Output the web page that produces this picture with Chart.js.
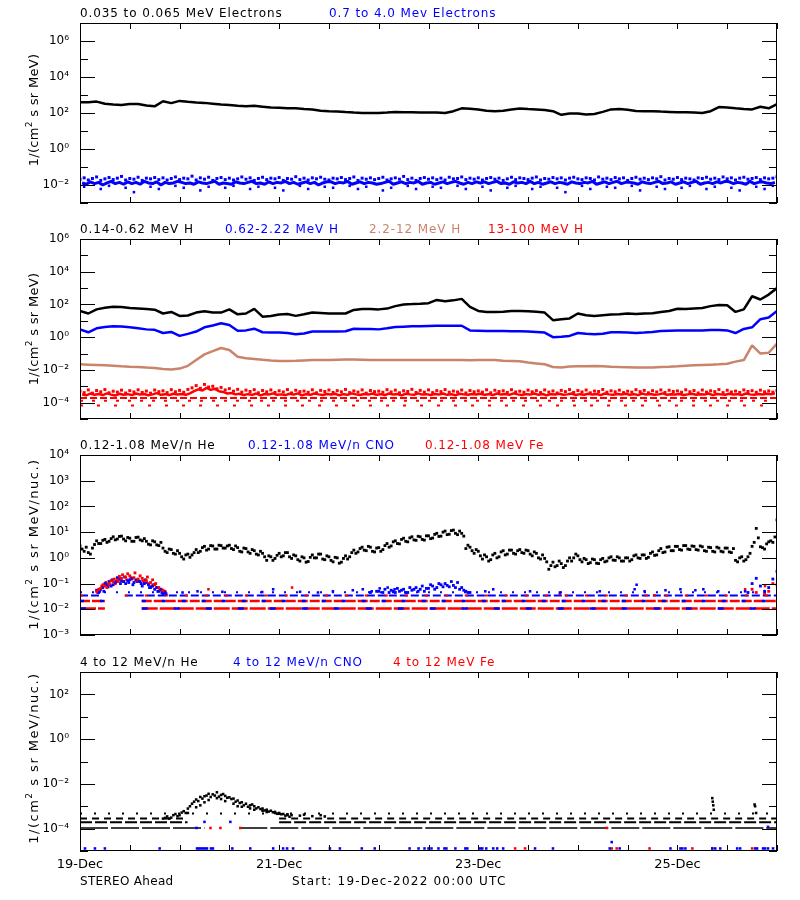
<!DOCTYPE html>
<html>
<head>
<meta charset="utf-8">
<title>STEREO Ahead particle fluxes</title>
<script src="https://cdn.jsdelivr.net/npm/chart.js@4.4.1/dist/chart.umd.min.js"></script>
<style>
body{margin:0;background:#fff;width:800px;height:900px;position:relative;overflow:hidden;font-family:"DejaVu Sans",sans-serif;}
canvas{position:absolute;left:0;}
.hdr{position:absolute;font-size:12px;line-height:14px;letter-spacing:0.9px;white-space:nowrap;}
.ytl{position:absolute;left:33px;font-size:13px;letter-spacing:0.3px;white-space:nowrap;transform:translate(-50%,-50%) rotate(-90deg);}
.ytl.nuc{letter-spacing:1.5px;}
.ytl sup{font-size:9px;line-height:0;}
</style>
</head>
<body>
<canvas id="p1" width="800" height="220" style="top:3px"></canvas>
<canvas id="p2" width="800" height="220" style="top:219px"></canvas>
<canvas id="p3" width="800" height="220" style="top:435px"></canvas>
<canvas id="p4" width="800" height="239" style="top:652px"></canvas>

<div class="hdr" style="left:80px;top:6px">0.035 to 0.065 MeV Electrons</div>
<div class="hdr" style="left:329px;top:6px;color:#0000ff">0.7 to 4.0 Mev Electrons</div>

<div class="hdr" style="left:80px;top:222px">0.14-0.62 MeV H</div>
<div class="hdr" style="left:225px;top:222px;color:#0000ff">0.62-2.22 MeV H</div>
<div class="hdr" style="left:369px;top:222px;color:#c98469">2.2-12 MeV H</div>
<div class="hdr" style="left:488px;top:222px;color:#ff0000">13-100 MeV H</div>

<div class="hdr" style="left:80px;top:438px">0.12-1.08 MeV/n He</div>
<div class="hdr" style="left:248px;top:438px;color:#0000ff">0.12-1.08 MeV/n CNO</div>
<div class="hdr" style="left:425px;top:438px;color:#ff0000">0.12-1.08 MeV Fe</div>

<div class="hdr" style="left:80px;top:655px">4 to 12 MeV/n He</div>
<div class="hdr" style="left:233px;top:655px;color:#0000ff">4 to 12 MeV/n CNO</div>
<div class="hdr" style="left:393px;top:655px;color:#ff0000">4 to 12 MeV Fe</div>

<div class="ytl" style="top:110px">1/(cm<sup>2</sup> s sr MeV)</div>
<div class="ytl" style="top:329px">1/(cm<sup>2</sup> s sr MeV)</div>
<div class="ytl nuc" style="top:544px">1/(cm<sup>2</sup> s sr MeV/nuc.)</div>
<div class="ytl nuc" style="top:758px">1/(cm<sup>2</sup> s sr MeV/nuc.)</div>

<div class="hdr" style="left:80px;top:874px;letter-spacing:0.3px">STEREO Ahead</div>
<div class="hdr" style="left:292px;top:874px;letter-spacing:1.2px">Start: 19-Dec-2022 00:00 UTC</div>

<script>
// x axis: days since 19-Dec-2022 00:00 UTC
const dateLabels = ['19-Dec', '21-Dec', '23-Dec', '25-Dec'];
const labelDays = [0, 2, 4, 6];

// ---- panel 1: electrons (2 h samples / hourly samples) ----
const eLow = [390,400,430,330,300,280,320,320,260,235,
  450,355,470,420,380,365,330,295,275,250,
  235,250,225,200,195,185,182,166,158,135,
  126,120,112,105,100,100,100,105,112,110,
  110,107,107,107,100,126,182,174,158,132,
  126,132,158,178,166,158,148,126,79,95,
  95,83,89,115,158,166,151,129,126,126,
  120,115,110,110,105,100,126,214,200,182,
  166,158,224,182,316];
const eHighUpper = [
  .021,.025,.019,.023,.028,.018,.022,.026,.020,.024,.030,.019,
  .023,.021,.027,.018,.024,.022,.026,.020,.025,.019,.023,.028,
  .020,.024,.022,.031,.019,.025,.021,.027,.018,.023,.026,.020,
  .024,.019,.022,.028,.021,.025,.018,.023,.027,.020,.024,.022,
  .026,.018,.023,.021,.029,.020,.024,.019,.025,.022,.027,.021,
  .019,.024,.022,.026,.020,.023,.028,.018,.024,.021,.025,.020,
  .023,.027,.019,.022,.025,.021,.030,.020,.024,.018,.023,.026,
  .021,.025,.020,.024,.019,.027,.022,.023,.028,.020,.024,.021,
  .025,.019,.023,.026,.021,.024,.018,.022,.027,.020,.025,.023,
  .020,.024,.028,.019,.023,.021,.026,.022,.025,.019,.024,.027,
  .022,.020,.025,.023,.019,.028,.021,.024,.020,.026,.022,.025,
  .018,.023,.027,.021,.024,.020,.025,.022,.029,.019,.023,.021,
  .026,.020,.024,.022,.019,.025,.023,.027,.021,.024,.020,.028,
  .022,.025,.019,.024,.027,.021,.023,.026,.020,.025,.022,.024,
  .029];
const eHighLower = [
  .013,.011,.015,.012,.014,.010,.013,.016,.012,.014,.011,.015,
  .012,.014,.011,.016,.013,.012,.015,.010,.014,.012,.013,.016,
  .014,.012,.013,.011,.015,.013,.012,.014,.016,.011,.013,.012,
  .011,.015,.013,.012,.014,.016,.012,.013,.011,.015,.012,.014,
  .013,.016,.012,.014,.011,.013,.015,.012,.014,.010,.013,.015,
  .015,.012,.014,.013,.016,.011,.013,.015,.012,.014,.013,.011,
  .012,.014,.016,.011,.013,.015,.012,.014,.013,.016,.011,.013,
  .014,.011,.013,.015,.012,.014,.016,.013,.011,.014,.012,.015,
  .013,.015,.012,.014,.016,.012,.013,.011,.015,.013,.014,.012,
  .016,.012,.014,.011,.013,.015,.012,.014,.013,.011,.015,.013,
  .012,.014,.013,.016,.011,.013,.015,.012,.014,.016,.012,.014,
  .014,.013,.011,.015,.013,.012,.014,.016,.012,.013,.015,.011,
  .013,.015,.012,.014,.016,.011,.013,.014,.012,.015,.013,.016,
  .015,.012,.014,.013,.011,.016,.012,.014,.015,.013,.012,.014];
const eHighDips = [.008,null,.006,.009,null,.007,.004,null,.008,.006,
  null,.009,.007,null,.005,.008,null,.007,.009,null,
  .006,.008,null,.007,.005,null,.009,.006,null,.008,
  .007,null,.009,.006,.008,null,.005,.007,null,.009,
  .006,null,.008,.007,null,.009,.006,null,.008,.005,
  null,.007,.009,null,.006,.008,null,.007,.004,null,
  .009,.006,null,.008,.007,null,.009,.005,null,.008,
  .006,null,.007,.009,null,.006,.008,null,.007,.005,
  null,.008,.006,.009,.007];

// ---- panel 2: protons ----
const hLow = [40,28,50,63,72,71,60,56,52,48,
  28,35,20,21,32,38,32,32,50,25,
  28,54,18,20,24,26,20,25,32,30,
  28,28,28,46,52,52,50,56,79,100,
  105,112,120,190,158,178,219,71,40,35,
  35,36,40,40,38,36,32,11,12.6,14,
  28,22,20,22,24,25,28,26,28,29,
  35,40,54,52,56,60,79,93,89,35,
  50,316,200,400,1000];
const hMid = [3.0,2.0,3.5,4.2,4.6,4.5,4.0,3.5,3.0,2.8,
  1.8,2.1,1.2,1.6,2.2,4.0,5.2,7.1,5.6,2.5,
  2.6,3.3,2.0,1.9,1.9,1.8,1.5,1.7,2.2,2.2,
  2.2,2.2,2.3,3.3,3.2,3.2,3.0,3.5,4.2,4.4,
  4.6,4.6,4.8,5.0,5.0,5.0,5.0,2.6,2.5,2.4,
  2.4,2.4,2.3,2.3,2.2,2.1,1.9,1.0,1.05,1.2,
  1.8,1.6,1.5,1.6,2.0,2.0,1.9,1.8,1.9,2.1,
  2.4,2.5,2.6,2.6,2.6,2.6,2.7,2.7,2.6,1.8,
  3.2,4.0,12.6,15.8,40];
const hHigh = [.022,.021,.020,.019,.018,.0166,.0158,.0151,.0141,.0132,
  .0112,.0107,.012,.0178,.040,.089,.141,.219,.166,.063,
  .052,.047,.042,.038,.035,.035,.036,.038,.040,.040,
  .040,.042,.044,.044,.042,.040,.040,.040,.040,.040,
  .040,.041,.040,.041,.040,.040,.040,.039,.040,.040,
  .040,.036,.035,.034,.028,.025,.022,.015,.014,.016,
  .0166,.0166,.0174,.0166,.0158,.0151,.0145,.0138,.0141,.0138,
  .0151,.0158,.0166,.0178,.019,.020,.021,.022,.024,.032,
  .040,.32,.10,.112,.40];
const hTopUpper = [
  5.2e-4,4.1e-4,6.0e-4,3.8e-4,5.5e-4,4.6e-4,6.3e-4,4.0e-4,5.0e-4,4.4e-4,5.8e-4,3.9e-4,
  5.4e-4,4.5e-4,6.1e-4,4.2e-4,5.1e-4,3.8e-4,5.9e-4,4.7e-4,5.3e-4,4.1e-4,6.2e-4,4.6e-4,
  5.6e-4,4.3e-4,6.4e-4,8.0e-4,1.1e-3,7.5e-4,1.3e-3,9.0e-4,1.0e-3,7.0e-4,8.5e-4,6.0e-4,
  7.2e-4,5.0e-4,6.5e-4,4.4e-4,5.8e-4,4.8e-4,6.2e-4,4.0e-4,5.5e-4,4.6e-4,6.0e-4,4.2e-4,
  5.3e-4,4.5e-4,6.3e-4,3.9e-4,5.7e-4,4.7e-4,5.1e-4,4.3e-4,6.1e-4,4.0e-4,5.6e-4,4.8e-4,
  5.9e-4,4.2e-4,5.4e-4,4.6e-4,6.4e-4,4.1e-4,5.2e-4,4.4e-4,6.0e-4,3.8e-4,5.5e-4,4.7e-4,
  5.0e-4,4.3e-4,6.2e-4,4.5e-4,5.8e-4,4.0e-4,5.3e-4,4.8e-4,6.5e-4,4.2e-4,5.6e-4,4.4e-4,
  6.0e-4,4.1e-4,5.4e-4,4.7e-4,6.3e-4,4.3e-4,5.1e-4,4.5e-4,5.9e-4,3.9e-4,5.5e-4,4.6e-4,
  5.2e-4,4.4e-4,6.1e-4,4.0e-4,5.7e-4,4.8e-4,5.3e-4,4.2e-4,6.2e-4,4.5e-4,5.0e-4,4.3e-4,
  5.8e-4,4.6e-4,5.4e-4,4.1e-4,6.0e-4,4.4e-4,5.2e-4,3.9e-4,5.6e-4,4.7e-4,6.3e-4,4.2e-4,
  5.5e-4,4.5e-4,5.9e-4,4.0e-4,5.1e-4,4.8e-4,6.4e-4,4.3e-4,5.3e-4,4.6e-4,5.8e-4,4.1e-4,
  5.0e-4,4.4e-4,6.2e-4,4.7e-4,5.6e-4,4.0e-4,5.4e-4,4.5e-4,6.0e-4,4.2e-4,5.7e-4,4.8e-4,
  5.2e-4,4.3e-4,6.1e-4,4.6e-4,5.5e-4,3.9e-4,5.9e-4,4.4e-4,5.3e-4,4.7e-4,6.3e-4,4.1e-4,
  5.7e-4,4.5e-4,5.1e-4,4.2e-4,6.0e-4,4.8e-4,5.4e-4,4.3e-4,5.8e-4,4.6e-4,5.2e-4,4.4e-4,
  5.6e-4];
const hTopLower = [
  3.2e-4,2.8e-4,3.6e-4,3.0e-4,3.4e-4,2.9e-4,3.7e-4,3.1e-4,2.7e-4,3.5e-4,3.0e-4,3.3e-4,
  2.9e-4,3.6e-4,3.1e-4,3.4e-4,2.8e-4,3.2e-4,3.8e-4,3.0e-4,3.3e-4,2.9e-4,3.5e-4,3.1e-4,
  3.4e-4,3.0e-4,3.7e-4,5.0e-4,6.5e-4,5.5e-4,8.0e-4,6.0e-4,7.0e-4,5.0e-4,4.5e-4,3.6e-4,
  3.9e-4,3.2e-4,3.5e-4,2.9e-4,3.3e-4,3.0e-4,3.6e-4,2.8e-4,3.4e-4,3.1e-4,3.7e-4,3.0e-4,
  3.2e-4,2.9e-4,3.5e-4,3.1e-4,3.7e-4,2.8e-4,3.3e-4,3.0e-4,3.6e-4,3.2e-4,2.9e-4,3.4e-4,
  3.1e-4,3.5e-4,2.8e-4,3.3e-4,3.0e-4,3.7e-4,3.2e-4,2.9e-4,3.4e-4,3.1e-4,3.6e-4,3.0e-4,
  3.3e-4,2.9e-4,3.6e-4,3.1e-4,3.4e-4,2.8e-4,3.5e-4,3.2e-4,3.0e-4,3.7e-4,3.1e-4,3.3e-4,
  2.9e-4,3.4e-4,3.1e-4,3.6e-4,3.0e-4,3.3e-4,2.8e-4,3.5e-4,3.2e-4,3.0e-4,3.4e-4,3.1e-4,
  3.5e-4,3.0e-4,3.3e-4,2.9e-4,3.6e-4,3.1e-4,3.4e-4,3.0e-4,3.7e-4,3.2e-4,2.9e-4,3.3e-4,
  3.1e-4,3.6e-4,3.0e-4,3.4e-4,2.8e-4,3.3e-4,3.1e-4,3.5e-4,3.0e-4,3.2e-4,3.6e-4,2.9e-4,
  3.3e-4,3.0e-4,3.5e-4,3.1e-4,3.4e-4,2.9e-4,3.6e-4,3.2e-4,3.0e-4,3.4e-4,3.1e-4,3.5e-4,
  3.0e-4,3.3e-4,2.9e-4,3.6e-4,3.1e-4,3.4e-4,3.0e-4,3.2e-4,3.7e-4,3.0e-4,3.3e-4,3.1e-4,
  3.4e-4,2.9e-4,3.2e-4,3.5e-4,3.0e-4,3.3e-4,3.1e-4,3.6e-4,2.9e-4,3.4e-4,3.2e-4,3.0e-4,
  3.5e-4,3.1e-4,3.3e-4,2.9e-4,3.6e-4,3.2e-4,3.0e-4,3.4e-4,3.1e-4,3.5e-4,3.3e-4,3.7e-4];
// single-count floor levels of the 13-100 MeV channel
const hTopFloors = [1.95e-4, 1.3e-4, 6.6e-5];

// ---- panel 3: 0.12-1.08 MeV/n heavy ions (hourly) ----
const heLowA = [
  2.9,1.8,1.6,2.4,4.6,3.6,5.2,4.4,6.6,5.4,7.0,4.6,
  5.8,4.4,6.4,4.6,4.4,3.2,4.2,3.0,2.4,1.6,2.1,1.4,
  1.5,0.9,1.4,1.3,2.1,1.8,2.8,2.2,2.9,2.2,3.0,2.4,
  3.1,2.1,2.5,1.7,2.3,1.5,1.9,1.3,1.5,0.8,1.1,0.95,
  1.5,1.2,1.6,0.95,1.2,0.75,1.0,0.72,1.3,1.0,1.4,0.85,
  1.1,0.7,1.0,0.68,1.2,1.1,2.0,1.7,2.6,1.9,2.6,1.7,
  2.5,2.1,3.6,2.9,4.6,3.5,5.8,4.2,6.6,4.8,6.6,4.9,
  7.2,5.9,9.0,7.0,11.0,8.3,12.0,8.0,9.0,2.3,2.6,1.5,
  1.8,0.9,1.1,0.85,1.5,1.1,1.9,1.4,2.0,1.4,2.1,1.5,
  1.9,1.2,1.5,0.9,0.95,0.36,0.68,0.5,0.6,0.5,1.0,1.0,
  1.2,0.7,0.85,0.65,0.85,0.6,0.95,0.75,1.1,0.8,1.0,0.75,
  1.0,0.85,1.3,0.95,1.3,1.05,1.7,1.3,2.3,1.7,2.7,1.9,
  2.8,2.0,3.0,2.1,2.8,2.0,2.7,1.8,2.5,1.7,2.4,1.7,
  2.4,1.6,0.8,1.0,0.75,1.1,2.8,14.0,2.7,2.2,4.2,4.0,
  30];
const heLowB = [
  2.2,2.6,1.4,3.3,3.6,4.8,4.0,5.6,5.0,6.8,5.4,6.2,
  4.4,6.2,5.0,5.6,3.4,4.6,3.2,4.0,1.8,2.2,1.5,1.9,
  1.1,1.3,1.05,1.6,1.6,2.5,2.0,3.0,2.2,3.1,2.4,2.9,
  2.3,2.9,1.8,2.4,1.7,2.1,1.4,1.8,1.1,1.2,0.8,1.25,
  1.1,1.6,1.1,1.3,0.85,1.1,0.68,1.05,1.0,1.4,0.9,1.2,
  0.8,1.05,0.62,0.95,0.9,1.6,1.5,2.3,2.0,2.8,1.8,2.4,
  1.8,3.0,2.6,4.2,3.6,5.2,4.4,6.0,5.0,6.9,5.2,7.2,
  5.6,8.2,6.8,10.0,8.0,11.5,9.0,11.0,7.0,3.1,1.9,2.1,
  1.2,1.3,0.75,1.3,1.0,1.7,1.3,2.0,1.5,1.9,1.6,2.0,
  1.4,1.7,1.0,1.3,0.7,0.5,0.45,0.75,0.42,0.75,0.75,1.4,
  0.85,0.95,0.6,0.9,0.62,0.85,0.7,1.0,0.82,1.1,0.75,1.0,
  0.75,1.2,1.0,1.3,0.95,1.5,1.25,1.9,1.6,2.6,1.9,2.8,
  2.1,3.0,2.2,2.9,2.1,2.9,1.9,2.6,1.8,2.6,1.8,2.4,
  1.7,2.3,0.7,1.1,0.85,1.5,4.0,6.0,2.5,3.5,4.6,6.5];
// early event, hours 4..20
const feLowBumpA = [0.05,0.065,0.08,0.1,0.12,0.14,0.16,0.18,0.2,0.17,0.15,0.16,0.13,0.11,0.09,0.07,0.055];
const feLowBumpB = [0.06,0.09,0.07,0.13,0.1,0.19,0.12,0.24,0.15,0.13,0.2,0.11,0.1,0.14,0.07,0.06,0.05];
const feLowBumpC = [0.045,0.08,0.11,0.09,0.15,0.12,0.22,0.14,0.17,0.26,0.12,0.13,0.18,0.08,0.1,0.055,0.045];
const cnoLowBumpA = [0.045,0.07,0.09,0.08,0.11,0.15,0.12,0.13,0.16,0.14,0.12,0.1,0.09,0.08,0.07,0.06,0.045];
const cnoLowBumpB = [0.055,0.06,0.1,0.12,0.09,0.17,0.13,0.1,0.14,0.11,0.13,0.08,0.11,0.07,0.06,0.05,0.04];
const cnoLowBumpC = [0.05,0.05,0.075,0.14,0.12,0.1,0.18,0.11,0.09,0.12,0.1,0.14,0.07,0.09,0.05,0.045,0.04];
// second CNO rise, hours 70..94
const cnoLowRiseA = [0.045,null,0.05,0.045,null,0.055,0.045,0.05,0.06,0.045,0.055,0.07,0.06,0.05,0.065,0.08,0.07,0.09,0.1,0.075,0.085,0.11,0.07,0.05,0.045];
const cnoLowRiseB = [null,0.05,null,0.06,0.045,0.05,0.065,0.055,0.045,0.07,0.06,0.05,0.08,0.065,0.09,0.06,0.1,0.075,0.085,0.12,0.07,0.06,0.055,0.045,null];
// last hours 161..168
const cnoLowEnd = [0.045,0.1,0.16,0.08,0.05,0.07,0.15,0.3];
const feLowEnd = [null,0.06,0.045,null,0.04,0.05,0.1,0.09];
// isolated counts
const cnoLowDays = [1.03,1.18,1.43,1.83,1.94,2.21,2.39,2.54,2.74,2.84,2.93,3.01,3.09,3.16,4.07,4.15,4.52,4.82,5.22,5.57,5.59,5.67,5.88,6.03,6.18,6.26,6.41,6.68];
const cnoLowVals = [0.045,0.05,0.048,0.047,0.06,0.048,0.045,0.05,0.055,0.06,0.05,0.065,0.07,0.06,0.05,0.06,0.05,0.045,0.05,0.06,0.09,0.05,0.055,0.06,0.055,0.06,0.05,0.05];
const feLowDays = [1.29,2.13,4.82,5.77,6.68,6.88];
const feLowVals = [0.06,0.07,0.04,0.035,0.06,0.08];
const lowFloors = [0.046, 0.034, 0.021, 0.0107];
const lowFloorSpans = [[0,7],[0,0.2,0.45,7],[0,0.25,0.62,7],[0,0.25,0.62,7]];

// ---- panel 4: 4-12 MeV/n heavy ions ----
const heHighBumpA = [2.8e-4,3.5e-4,3.1e-4,4.5e-4,4.0e-4,6.0e-4,7.9e-4,1.3e-3,2.0e-3,2.6e-3,2.8e-3,3.6e-3,3.4e-3,4.2e-3,3.2e-3,2.9e-3,2.5e-3,2.2e-3,1.8e-3,1.5e-3,1.3e-3,1.1e-3,1.0e-3,9.0e-4,7.9e-4,7.0e-4,6.3e-4,5.6e-4,5.0e-4,4.5e-4,4.0e-4];
const heHighBumpB = [3.0e-4,2.8e-4,4.0e-4,3.6e-4,5.2e-4,5.0e-4,1.0e-3,1.6e-3,1.7e-3,2.2e-3,3.0e-3,2.6e-3,3.0e-3,2.7e-3,3.5e-3,2.4e-3,2.1e-3,1.6e-3,1.4e-3,1.1e-3,9.5e-4,1.2e-3,8.0e-4,7.5e-4,6.5e-4,5.8e-4,5.4e-4,4.6e-4,4.4e-4,3.8e-4,3.4e-4];
const heHighBumpC = [5.0e-4,null,9.0e-4,1.1e-3,1.5e-3,1.9e-3,null,2.3e-3,2.1e-3,1.7e-3,null,1.3e-3,1.0e-3,9.5e-4,null,8.0e-4,7.0e-4,null,6.3e-4,5.5e-4,null,5.0e-4,4.6e-4,null,4.4e-4,4.0e-4,null,3.8e-4,4.2e-4,null,3.6e-4,null,4.0e-4,3.5e-4,null];
const heHighSpikeDays = [6.35,6.355,6.36,6.365,6.775,6.78,6.79];
const heHighSpikeVals = [2.3e-3,1.6e-3,1.1e-3,7.0e-4,1.2e-3,1.0e-3,5.0e-4];
const highFloors = [4.7e-4, 2.8e-4, 1.95e-4, 1.07e-4];
const highFloorSpans = [[0,7],[0,1.08,2.0,7],[0,1.08,2.0,7],[0,1.25,1.6,7]];
const cnoHighFloor = 1.3e-5;
const cnoHighFloorDays = [0.05,0.15,0.25,0.80,1.175,1.195,1.215,1.235,1.255,1.275,1.315,1.335,1.53,1.71,1.94,2.04,2.08,2.14,2.31,2.51,2.61,2.83,2.96,3.31,3.40,3.46,3.50,3.53,3.60,3.66,3.68,3.77,3.87,3.89,4.02,4.04,4.08,4.15,4.19,4.25,4.57,4.75,5.32,5.42,5.93,6.03,6.05,6.08,6.35,6.38,6.43,6.60,6.63,6.78,6.80,6.86,6.88,6.91,6.96];
const cnoHighDays = [1.17,1.25,1.51,5.34,6.91];
const cnoHighVals = [1.07e-4,2.0e-4,2.0e-4,2.5e-5,1.2e-4];
const feHighDays = [1.31,1.41,1.61,4.37,4.47,5.29,5.34,5.39,5.72,6.15,6.35,6.75];
const feHighVals = [1.07e-4,1.07e-4,1.07e-4,1.3e-5,1.3e-5,1.07e-4,1.3e-5,1.3e-5,1.3e-5,1.3e-5,1.3e-5,1.3e-5];

const BLACK = '#000000', BLUE = '#0000ff', BROWN = '#c98469', RED = '#ff0000';
const SUP = {'0':'⁰','1':'¹','2':'²','3':'³','4':'⁴','5':'⁵','6':'⁶','7':'⁷','8':'⁸','9':'⁹','-':'⁻'};
function sup(n){ return String(n).split('').map(c => SUP[c]).join(''); }

// series sampled every stepH hours starting at startH
function timed(values, startH, stepH){
    return values.map((v, i) => ({x: (startH + i*stepH)/24, y: v}));
}
function pairs(days, vals){
    return days.map((d, i) => ({x: d, y: Array.isArray(vals) ? vals[i] : vals}));
}
function dots(data, color, r){
    return {data, showLine:false, pointStyle:'rect', pointRadius:r || 1.8, pointBackgroundColor:color, pointBorderWidth:0, pointHoverRadius:0};
}
function trace(data, color, w){
    return {data, showLine:true, borderColor:color, borderWidth:w || 2.5, borderJoinStyle:'bevel', pointRadius:0, spanGaps:false};
}
function floorRow(level, spans, color, dash, w){
    const data = [];
    for(let i=0;i<spans.length;i+=2){
        data.push({x:spans[i], y:level}, {x:spans[i+1], y:level}, {x:spans[i+1], y:null});
    }
    return {data, showLine:true, borderColor:color, borderWidth:w || 2, borderDash:dash, pointRadius:0, spanGaps:false};
}

// frame, inward tick marks on all four sides
const frameTicks = {
    id:'frameTicks',
    afterDraw(chart, args, opts){
        const {ctx, chartArea:a} = chart;
        const xs = chart.scales.x, ys = chart.scales.y;
        ctx.save();
        ctx.strokeStyle = '#000';
        ctx.lineWidth = 1;
        ctx.beginPath();
        for(let e=opts.lo; e<=opts.hi; e++){
            const py = Math.round(ys.getPixelForValue(Math.pow(10, e))) + 0.5;
            const len = opts.labelled.includes(e) ? 15 : 8;
            ctx.moveTo(a.left, py); ctx.lineTo(a.left + len, py);
            ctx.moveTo(a.right, py); ctx.lineTo(a.right - len, py);
        }
        for(let h=0; h<=168; h+=12){
            const px = Math.round(xs.getPixelForValue(h/24)) + 0.5;
            ctx.moveTo(px, a.top); ctx.lineTo(px, a.top + 6);
            ctx.moveTo(px, a.bottom); ctx.lineTo(px, a.bottom - 6);
        }
        ctx.stroke();
        ctx.strokeRect(Math.round(a.left)+0.5, Math.round(a.top)+0.5, Math.round(a.width)-1, Math.round(a.height)-1);
        ctx.restore();
    }
};

Chart.defaults.font.family = '"DejaVu Sans", sans-serif';
Chart.defaults.color = '#000';

function makePanel(id, lo, hi, labelled, datasets, showDates){
    const xAxis = {
        type:'linear', min:0, max:7,
        grid:{display:false, drawTicks:false}, border:{display:false},
        ticks:{display:false}
    };
    if(showDates){
        xAxis.afterBuildTicks = s => { s.ticks = labelDays.map(v => ({value:v})); };
        xAxis.ticks = {display:true, autoSkip:false, maxRotation:0, padding:6, font:{size:13},
            callback:v => dateLabels[labelDays.indexOf(v)]};
        xAxis.afterFit = s => { s.height = 30; };
    } else {
        xAxis.afterFit = s => { s.height = 0; };
    }
    return new Chart(document.getElementById(id), {
        type:'scatter',
        data:{datasets},
        plugins:[frameTicks],
        options:{
            responsive:false, animation:false, events:[],
            layout:{padding:{left:0, right:23, top:20, bottom: showDates ? 10 : 20}},
            plugins:{legend:{display:false}, tooltip:{enabled:false}, frameTicks:{lo, hi, labelled}},
            scales:{
                x:xAxis,
                y:{
                    type:'logarithmic', min:Math.pow(10, lo), max:Math.pow(10, hi),
                    afterBuildTicks:s => { s.ticks = labelled.map(e => ({value:Math.pow(10, e)})); },
                    afterFit:s => { s.width = 80; },
                    grid:{display:false, drawTicks:false}, border:{display:false},
                    ticks:{autoSkip:false, padding:11, font:{size:12},
                        callback:v => '10' + sup(Math.round(Math.log10(v)))}
                }
            }
        }
    });
}

// panel 1
makePanel('p1', -3, 7, [-2,0,2,4,6], [
    trace(timed(eLow, 0, 2), BLACK, 2.5),
    dots(timed(eHighUpper, 0, 1), BLUE, 2.1),
    trace(timed(eHighLower, 0.5, 1), BLUE, 3),
    dots(timed(eHighDips, 1, 2), BLUE, 1.8)
]);

// panel 2
makePanel('p2', -5, 6, [-4,-2,0,2,4,6], [
    trace(timed(hLow, 0, 2), BLACK, 2.5),
    trace(timed(hMid, 0, 2), BLUE, 2.5),
    trace(timed(hHigh, 0, 2), BROWN, 2.5),
    dots(timed(hTopUpper, 0, 1), RED, 2.1),
    trace(timed(hTopLower, 0.5, 1), RED, 2.5),
    floorRow(hTopFloors[0], [0,7], RED, [7,3], 2),
    floorRow(hTopFloors[1], [0,7], RED, [3,9], 2),
    floorRow(hTopFloors[2], [0,7], RED, [3,14], 2)
]);

// panel 3
makePanel('p3', -3, 4, [-3,-2,-1,0,1,2,3,4], [
    dots(timed(heLowA, 0, 1), BLACK, 2.0),
    dots(timed(heLowB, 0.5, 1), BLACK, 2.0),
    dots(timed(feLowBumpA, 4, 1), RED, 2.0),
    dots(timed(cnoLowBumpA, 4.5, 1), BLUE, 2.0),
    dots(timed(feLowBumpB, 4.5, 1), RED, 2.0),
    dots(timed(cnoLowBumpB, 4, 1), BLUE, 2.0),
    dots(timed(feLowBumpC, 4.25, 1), RED, 2.0),
    dots(timed(cnoLowBumpC, 4.75, 1), BLUE, 2.0),
    dots(timed(cnoLowRiseA, 70, 1), BLUE, 2.0),
    dots(timed(cnoLowRiseB, 70.5, 1), BLUE, 2.0),
    dots(timed(cnoLowEnd, 161, 1), BLUE, 2.0),
    dots(timed(feLowEnd, 161, 1), RED, 2.0),
    dots(pairs(cnoLowDays, cnoLowVals), BLUE, 1.8),
    dots(pairs(feLowDays, feLowVals), RED, 1.8),
    floorRow(lowFloors[0], lowFloorSpans[0], BLUE, [2,10], 2),
    floorRow(lowFloors[1], lowFloorSpans[1], RED, [3,17], 2),
    floorRow(lowFloors[1], lowFloorSpans[1], BLUE, [8,3], 2),
    floorRow(lowFloors[2], lowFloorSpans[2], BLUE, [4,16], 2.5),
    floorRow(lowFloors[2], lowFloorSpans[2], RED, [10,2], 2.5),
    floorRow(lowFloors[3], lowFloorSpans[3], BLUE, [6,26], 2.5),
    floorRow(lowFloors[3], lowFloorSpans[3], RED, [16,2], 2.5)
]);

// panel 4
makePanel('p4', -5, 3, [-4,-2,0,2], [
    dots(timed(heHighBumpA, 20, 1), BLACK, 1.8),
    dots(timed(heHighBumpB, 20.5, 1), BLACK, 1.8),
    dots(timed(heHighBumpC, 26, 1), BLACK, 1.8),
    dots(pairs(heHighSpikeDays, heHighSpikeVals), BLACK, 1.8),
    dots(pairs(cnoHighFloorDays, cnoHighFloor), BLUE, 1.8),
    dots(pairs(cnoHighDays, cnoHighVals), BLUE, 1.8),
    dots(pairs(feHighDays, feHighVals), RED, 1.8),
    floorRow(highFloors[0], highFloorSpans[0], BLACK, [2,12], 2),
    floorRow(highFloors[1], highFloorSpans[1], BLACK, [7,5], 2),
    floorRow(highFloors[2], highFloorSpans[2], BLACK, [12,3], 2),
    floorRow(highFloors[3], highFloorSpans[3], BLACK, [28,3], 1.5)
], true);
</script>
</body>
</html>
